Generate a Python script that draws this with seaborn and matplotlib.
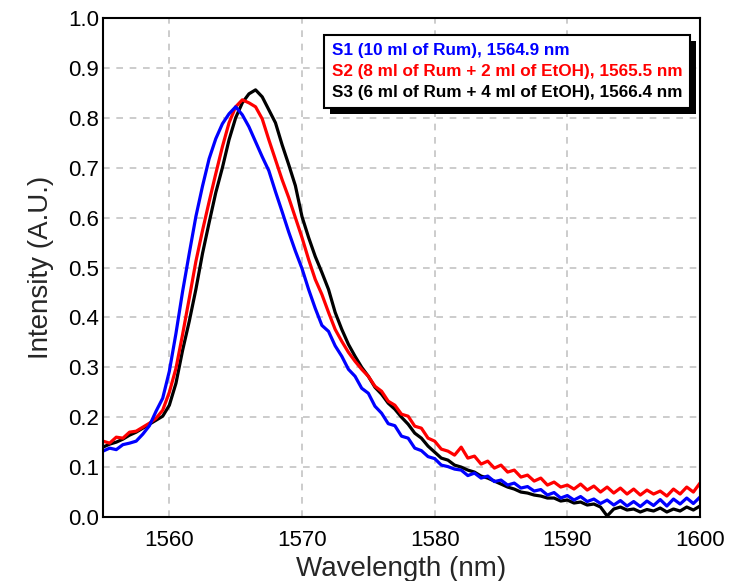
import numpy as np
import pandas as pd
import matplotlib
matplotlib.use("Agg")
import matplotlib.pyplot as plt
from matplotlib.lines import Line2D
from matplotlib.patches import Rectangle
from matplotlib.transforms import IdentityTransform
import seaborn as sns

# wavelength sampling (nm)
wavelength = np.arange(1555.0, 1600.01, 0.5)

s1_intensity = [
    0.132, 0.138, 0.135, 0.145, 0.148, 0.152, 0.166, 0.183, 0.212, 0.238,
    0.292, 0.368, 0.452, 0.528, 0.602, 0.663, 0.718, 0.758, 0.788, 0.808,
    0.822, 0.806, 0.782, 0.752, 0.722, 0.694, 0.652, 0.612, 0.571, 0.533,
    0.498, 0.456, 0.418, 0.384, 0.372, 0.343, 0.322, 0.296, 0.282, 0.258,
    0.248, 0.222, 0.208, 0.187, 0.183, 0.162, 0.158, 0.138, 0.133, 0.121,
    0.117, 0.104, 0.101, 0.096, 0.094, 0.083, 0.088, 0.078, 0.082, 0.071,
    0.074, 0.064, 0.068, 0.058, 0.061, 0.052, 0.055, 0.044, 0.049, 0.038,
    0.043, 0.034, 0.041, 0.031, 0.036, 0.027, 0.034, 0.024, 0.033, 0.022,
    0.031, 0.021, 0.032, 0.023, 0.035, 0.022, 0.036, 0.026, 0.038, 0.027,
    0.040,
]
s2_intensity = [
    0.152, 0.148, 0.160, 0.158, 0.170, 0.172, 0.180, 0.188, 0.198, 0.214,
    0.250, 0.298, 0.366, 0.438, 0.512, 0.574, 0.632, 0.688, 0.742, 0.790,
    0.822, 0.836, 0.830, 0.822, 0.798, 0.756, 0.716, 0.676, 0.640, 0.600,
    0.560, 0.516, 0.476, 0.446, 0.410, 0.376, 0.352, 0.330, 0.312, 0.296,
    0.282, 0.262, 0.252, 0.232, 0.224, 0.206, 0.202, 0.182, 0.178, 0.158,
    0.152, 0.136, 0.132, 0.124, 0.140, 0.118, 0.122, 0.106, 0.112, 0.098,
    0.104, 0.090, 0.094, 0.080, 0.084, 0.072, 0.078, 0.064, 0.070, 0.060,
    0.064, 0.056, 0.066, 0.054, 0.062, 0.050, 0.060, 0.048, 0.058, 0.046,
    0.056, 0.044, 0.054, 0.046, 0.052, 0.042, 0.056, 0.046, 0.060, 0.050,
    0.068,
]
s3_intensity = [
    0.140, 0.146, 0.150, 0.156, 0.164, 0.170, 0.178, 0.186, 0.194, 0.202,
    0.224, 0.268, 0.334, 0.392, 0.456, 0.528, 0.590, 0.650, 0.700, 0.756,
    0.800, 0.830, 0.848, 0.856, 0.842, 0.816, 0.790, 0.746, 0.706, 0.664,
    0.602, 0.560, 0.522, 0.490, 0.456, 0.410, 0.376, 0.346, 0.322, 0.300,
    0.282, 0.260, 0.246, 0.228, 0.216, 0.200, 0.186, 0.168, 0.158, 0.142,
    0.130, 0.118, 0.114, 0.104, 0.100, 0.094, 0.090, 0.082, 0.078, 0.072,
    0.066, 0.060, 0.056, 0.050, 0.048, 0.044, 0.042, 0.038, 0.038, 0.032,
    0.034, 0.028, 0.030, 0.024, 0.026, 0.020, 0.002, 0.016, 0.020, 0.014,
    0.016, 0.010, 0.015, 0.012, 0.018, 0.010, 0.016, 0.012, 0.020, 0.014,
    0.022,
]

series_labels = [
    "S1 (10 ml of Rum), 1564.9 nm",
    "S2 (8 ml of Rum + 2 ml of EtOH), 1565.5 nm",
    "S3 (6 ml of Rum + 4 ml of EtOH), 1566.4 nm",
]
series_colors = ["#0000ff", "#ff0000", "#000000"]
x_ticks = [1560, 1570, 1580, 1590, 1600]
y_ticks = [0.0, 0.1, 0.2, 0.3, 0.4, 0.5, 0.6, 0.7, 0.8, 0.9, 1.0]

df = pd.concat([
    pd.DataFrame({"Wavelength": wavelength, "Intensity": vals, "Sample": lab})
    for vals, lab in zip([s1_intensity, s2_intensity, s3_intensity], series_labels)
], ignore_index=True)

sns.set_style("white")
plt.rcParams["font.family"] = ["Liberation Sans", "DejaVu Sans"]

fig = plt.figure(figsize=(7.31, 5.81), dpi=100)
ax = fig.add_axes([103 / 731, 64 / 581, 597 / 731, 499 / 581])

palette = dict(zip(series_labels, series_colors))
sns.lineplot(data=df, x="Wavelength", y="Intensity", hue="Sample",
             hue_order=series_labels[::-1], palette=palette,
             estimator=None, linewidth=2.3, legend=False, ax=ax)

ax.set_xlim(1555, 1600)
ax.set_ylim(0, 1.0)
ax.set_xticks(x_ticks)
ax.set_yticks(y_ticks)
ax.set_yticklabels([f"{v:.1f}" for v in y_ticks])
ax.tick_params(axis="both", length=0, labelsize=16, colors="black")
ax.tick_params(axis="x", pad=9)
ax.tick_params(axis="y", pad=3)
ax.grid(True, color="#c4c4c4", linestyle=(0, (4, 4)), linewidth=1.2)
ax.set_axisbelow(True)
for sp in ax.spines.values():
    sp.set_color("black")
    sp.set_linewidth(1.5)

ax.set_xlabel("Wavelength (nm)", fontsize=20, labelpad=4)
ax.set_ylabel("Intensity (A.U.)", fontsize=20, labelpad=10)

handles = [Line2D([], [], linestyle="none") for _ in series_labels]
leg = ax.legend(handles, series_labels, loc="upper right",
                bbox_to_anchor=(0.983, 0.966), borderaxespad=0,
                handlelength=0, handletextpad=0, labelcolor=series_colors,
                prop={"weight": "bold", "size": 12.3}, frameon=True,
                fancybox=False, framealpha=1, edgecolor="black",
                labelspacing=0.37, borderpad=0.45)
leg.get_frame().set_linewidth(1.5)

fig.canvas.draw()
bb = leg.get_window_extent()
shadow = Rectangle((bb.x0 + 6, bb.y0 - 6), bb.width, bb.height,
                   transform=IdentityTransform(), facecolor="black",
                   edgecolor="none", zorder=4.5)
ax.add_artist(shadow)

fig.savefig("out.png", dpi=100)
